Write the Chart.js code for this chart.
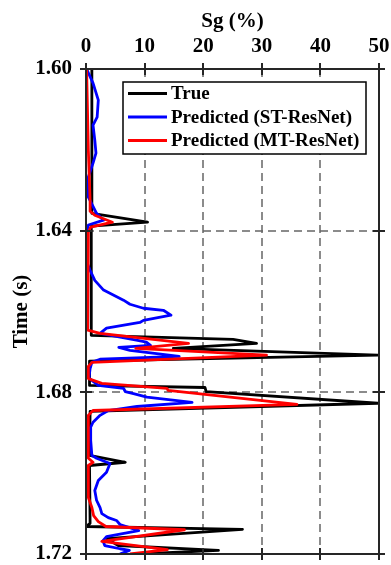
<!DOCTYPE html>
<html>
<head>
<meta charset="utf-8">
<script src="https://cdn.jsdelivr.net/npm/chart.js@4.4.1/dist/chart.umd.min.js"></script>
<style>
  html, body { margin: 0; padding: 0; background: #fff; }
  #wrap { width: 391px; height: 565px; }
</style>
</head>
<body>
<div id="wrap"><canvas id="sgChart" width="391" height="565"></canvas></div>
<script>
// Sg log vs. time: true curve and the two network predictions
const xTicks = [0, 10, 20, 30, 40, 50]
const yTicks = [1.60, 1.64, 1.68, 1.72]

const seriesNames = ["True", "Predicted (ST-ResNet)", "Predicted (MT-ResNet)"]
const seriesColors = ["#000000", "#0000ff", "#ff0000"]

const trueTime = [1.6000, 1.6357, 1.6379, 1.6389, 1.6659, 1.6669, 1.6679, 1.6691, 1.6708, 1.6723,
  1.6783, 1.6788, 1.6798, 1.6827, 1.6847, 1.6956, 1.6973, 1.6981, 1.7124, 1.7132,
  1.7139, 1.7162, 1.7179, 1.7191, 1.7200]
const trueSg = [1.0, 1.0, 10.5, 0.9, 0.9, 25.1, 29.1, 14.9, 49.8, 0.6,
  0.6, 20.3, 20.5, 49.8, 0.7, 0.6, 6.7, 0.6, 0.7, 0.0,
  26.7, 3.5, 5.5, 22.6, 9.0]

const stTime = [1.6000, 1.6035, 1.6077, 1.6119, 1.6139, 1.6176, 1.6208, 1.6233, 1.6267, 1.6317,
  1.6357, 1.6374, 1.6386, 1.6399, 1.6480, 1.6498, 1.6523, 1.6547, 1.6572, 1.6582,
  1.6592, 1.6597, 1.6609, 1.6622, 1.6627, 1.6641, 1.6654, 1.6671, 1.6676, 1.6684,
  1.6689, 1.6696, 1.6711, 1.6718, 1.6726, 1.6741, 1.6765, 1.6783, 1.6790, 1.6798,
  1.6803, 1.6812, 1.6825, 1.6835, 1.6845, 1.6857, 1.6874, 1.6889, 1.6919, 1.6956,
  1.6963, 1.6976, 1.6998, 1.7018, 1.7043, 1.7067, 1.7085, 1.7100, 1.7110, 1.7117,
  1.7127, 1.7142, 1.7157, 1.7167, 1.7179, 1.7187, 1.7191, 1.7200]
const stSg = [0.1, 1.2, 2.1, 1.9, 1.2, 1.5, 1.7, 1.2, 0.4, 0.4,
  1.8, 3.0, 0.4, 0.2, 0.2, 0.7, 1.5, 3.0, 6.4, 7.5,
  9.8, 13.2, 14.5, 9.8, 9.2, 3.5, 2.4, 8.6, 10.3, 11.0,
  5.6, 7.5, 15.9, 2.4, 1.0, 0.7, 0.5, 2.1, 6.4, 6.7,
  8.1, 10.4, 18.1, 8.7, 3.8, 2.4, 1.2, 0.7, 0.8, 1.0,
  1.8, 4.1, 3.5, 2.1, 1.5, 1.8, 2.4, 2.7, 3.8, 5.2,
  5.8, 9.0, 3.5, 2.9, 3.2, 5.8, 7.4, 5.8]

const mtTime = [1.6000, 1.6201, 1.6324, 1.6352, 1.6362, 1.6379, 1.6391, 1.6404, 1.6646, 1.6654,
  1.6679, 1.6691, 1.6708, 1.6726, 1.6736, 1.6766, 1.6778, 1.6790, 1.6795, 1.6830,
  1.6845, 1.6857, 1.6963, 1.6973, 1.6981, 1.7060, 1.7085, 1.7105, 1.7120, 1.7132,
  1.7140, 1.7169, 1.7189, 1.7200]
const mtSg = [0.1, 0.4, 0.7, 0.7, 1.5, 4.5, 0.8, 0.4, 0.3, 2.4,
  17.5, 8.5, 30.8, 1.0, 0.4, 0.4, 2.7, 13.8, 14.0, 36.0,
  1.2, 0.4, 0.4, 1.2, 0.4, 0.4, 1.0, 1.3, 2.1, 3.4,
  16.8, 2.7, 13.9, 7.5]

const serifBold = (size) => ({ family: "'Liberation Serif', 'Times New Roman', serif", size: size, weight: "bold" })
const axisColor = "#262626"

function toPoints(times, values) {
  return times.map((t, i) => ({ x: values[i], y: t }))
}

/**
 * Dashed grid under the curves, boxed axes with ticks and the legend on top
 */
const framePlugin = {
  id: "frame",
  beforeDatasetsDraw(chart) {
    const { ctx, chartArea: a, scales } = chart
    ctx.save()
    ctx.strokeStyle = "#666666"
    ctx.lineWidth = 1.5
    ctx.setLineDash([8, 5])
    xTicks.slice(1, -1).forEach((v) => {
      const px = Math.round(scales.x.getPixelForValue(v))
      ctx.beginPath()
      ctx.moveTo(px, a.top)
      ctx.lineTo(px, a.bottom)
      ctx.stroke()
    })
    yTicks.slice(1, -1).forEach((v) => {
      const py = Math.round(scales.y.getPixelForValue(v))
      ctx.beginPath()
      ctx.moveTo(a.left, py)
      ctx.lineTo(a.right, py)
      ctx.stroke()
    })
    ctx.restore()
  },
  afterDatasetsDraw(chart) {
    const { ctx, chartArea: a, scales } = chart
    ctx.save()
    ctx.strokeStyle = axisColor
    ctx.lineWidth = 2
    ctx.strokeRect(a.left, a.top, a.right - a.left, a.bottom - a.top)

    // tick marks cross both the top/bottom and left/right edges
    const len = 6
    ctx.beginPath()
    xTicks.forEach((v) => {
      const px = Math.round(scales.x.getPixelForValue(v))
      ctx.moveTo(px, a.top - len)
      ctx.lineTo(px, a.top + len)
      ctx.moveTo(px, a.bottom - len)
      ctx.lineTo(px, a.bottom + len)
    })
    yTicks.forEach((v) => {
      const py = Math.round(scales.y.getPixelForValue(v))
      ctx.moveTo(a.left - len, py)
      ctx.lineTo(a.left + len, py)
      ctx.moveTo(a.right - len, py)
      ctx.lineTo(a.right + len, py)
    })
    ctx.stroke()

    // legend box
    const box = { x: 123, y: 82, w: 243, h: 72 }
    ctx.fillStyle = "#ffffff"
    ctx.fillRect(box.x, box.y, box.w, box.h)
    ctx.lineWidth = 1.5
    ctx.strokeStyle = "#000000"
    ctx.strokeRect(box.x, box.y, box.w, box.h)
    ctx.font = "bold 19px 'Liberation Serif', 'Times New Roman', serif"
    ctx.textBaseline = "middle"
    ctx.textAlign = "left"
    chart.data.datasets.forEach((ds, i) => {
      const rowY = box.y + 11.5 + i * 23.5
      ctx.strokeStyle = ds.borderColor
      ctx.lineWidth = 2.8
      ctx.beginPath()
      ctx.moveTo(128, rowY)
      ctx.lineTo(167, rowY)
      ctx.stroke()
      ctx.fillStyle = "#000000"
      ctx.fillText(ds.label, 171, rowY + 1)
    })
    ctx.restore()
  },
}

const ctx = document.getElementById("sgChart")

new Chart(ctx, {
  type: "line",
  data: {
    datasets: [
      { label: seriesNames[0], data: toPoints(trueTime, trueSg), borderColor: seriesColors[0], order: 3 },
      { label: seriesNames[1], data: toPoints(stTime, stSg), borderColor: seriesColors[1], order: 2 },
      { label: seriesNames[2], data: toPoints(mtTime, mtSg), borderColor: seriesColors[2], order: 1 },
    ],
  },
  options: {
    responsive: false,
    devicePixelRatio: 1,
    animation: false,
    datasets: {
      line: { borderWidth: 2.8, pointRadius: 0, tension: 0, fill: false, borderJoinStyle: "round" },
    },
    layout: { padding: { top: 0, left: 0, right: 12, bottom: 11 } },
    plugins: {
      legend: { display: false },
      tooltip: { enabled: false },
    },
    scales: {
      x: {
        type: "linear",
        position: "top",
        min: 0,
        max: 50,
        afterBuildTicks: (s) => { s.ticks = xTicks.map((v) => ({ value: v })) },
        afterFit: (s) => { s.height = 69; s.paddingLeft = 0; s.paddingRight = 0 },
        grid: { display: false, drawTicks: false },
        border: { display: false },
        ticks: { color: "#000", font: serifBold(21), padding: 10, autoSkip: false, maxRotation: 0 },
        title: { display: true, text: "Sg (%)", color: "#000", font: serifBold(21), padding: { top: 9, bottom: 0 } },
      },
      y: {
        type: "linear",
        reverse: true,
        min: 1.60,
        max: 1.72,
        afterBuildTicks: (s) => { s.ticks = yTicks.map((v) => ({ value: v })) },
        afterFit: (s) => { s.width = 86; s.paddingTop = 0; s.paddingBottom = 0 },
        grid: { display: false, drawTicks: false },
        border: { display: false },
        ticks: { color: "#000", font: serifBold(21), padding: 14, autoSkip: false, callback: (v) => Number(v).toFixed(2) },
        title: { display: true, text: "Time (s)", color: "#000", font: serifBold(21), padding: { top: 9, bottom: 0 } },
      },
    },
  },
  plugins: [framePlugin],
})
</script>
</body>
</html>
